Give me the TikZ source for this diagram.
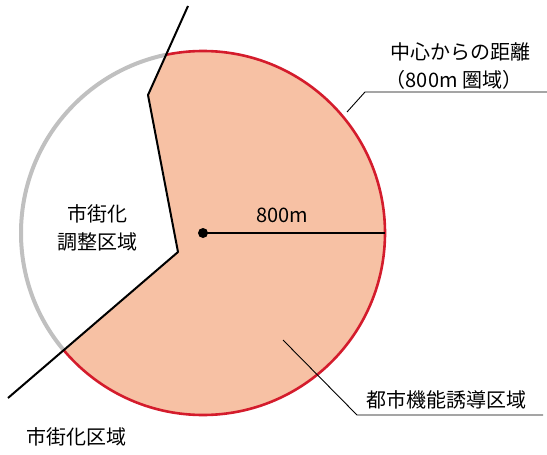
\documentclass[tikz,border=0pt]{standalone}
\usepackage{fontspec}
\setmainfont{Noto Sans CJK JP}
\usepackage{xcolor}
\definecolor{areaorange}{RGB}{247,193,164}
\definecolor{areared}{RGB}{212,28,44}
\definecolor{areagray}{RGB}{192,192,192}

\begin{document}
\begin{tikzpicture}[x=1pt, y=-1pt, line join=round,
    lbl/.style={font=\fontsize{20}{24}\selectfont, inner sep=0pt},
    leader/.style={line width=0.9pt}]
  \def\radius{182pt}
  \useasboundingbox (0,0) rectangle (547,455);

  % centre of the 800m circle and the boundary line
  \coordinate (center) at (203,233);
  \coordinate (edge) at (385,233);
  \coordinate (b1) at (188,6);
  \coordinate (b2) at (148,95);
  \coordinate (b3) at (178,252);
  \coordinate (b4) at (8,398);

  % area right of the boundary (orange, red outline)
  \begin{scope}
    \clip (b1) -- (b2) -- (b3) -- (b4) -- (8,455) -- (547,455) -- (547,0) -- (188,0) -- cycle;
    \fill[areaorange] (center) circle[radius=\radius];
    \draw[areared, line width=2.6pt] (center) circle[radius=\radius];
  \end{scope}

  % area left of the boundary (gray outline only)
  \begin{scope}
    \clip (b1) -- (b2) -- (b3) -- (b4) -- (8,455) -- (0,455) -- (0,0) -- (188,0) -- cycle;
    \draw[areagray, line width=4pt] (center) circle[radius=\radius];
  \end{scope}

  % boundary line
  \draw[line width=2pt] (b1) -- (b2) -- (b3) -- (b4);

  % radius
  \draw[line width=2.2pt] (center) -- (edge);
  \fill (center) circle[radius=5pt];
  \node[lbl] (dist) at (282,215) {800m};

  % labels
  \node[lbl] (radiuslabel) at (460,52) {中心からの距離};
  \node[lbl] (radiussub) at (454,80) {（800m 圏域）};
  \node[lbl] (urbancontrol) at (97,214) {市街化};
  \node[lbl] (urbancontrol2) at (97,242) {調整区域};
  \node[lbl] (urban) at (77,437) {市街化区域};
  \node[lbl] (inducearea) at (446,400) {都市機能誘導区域};

  % leader lines
  \coordinate (topstart) at (347,112);
  \coordinate (topbend) at (365,92);
  \coordinate (topend) at (547,92);
  \draw[leader] (topstart) -- (topbend) -- (topend);
  \coordinate (botstart) at (283,340);
  \coordinate (botbend) at (357,415);
  \coordinate (botend) at (543,415);
  \draw[leader] (botstart) -- (botbend) -- (botend);
\end{tikzpicture}
\end{document}
